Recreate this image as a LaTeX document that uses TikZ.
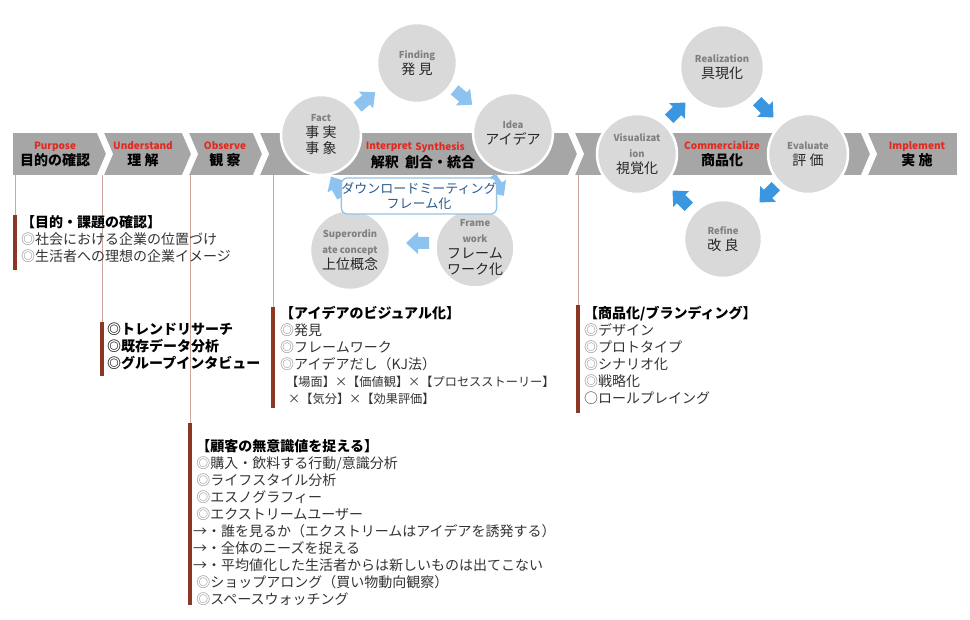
\documentclass[tikz,border=0pt]{standalone}
\usepackage{fontspec}
\setmainfont{Liberation Sans}
\newfontfamily\jp{Noto Sans CJK JP}
\usetikzlibrary{calc}
\definecolor{bandgray}{RGB}{166,166,166}
\definecolor{bubblegray}{RGB}{217,217,217}
\definecolor{capgray}{RGB}{128,128,128}
\definecolor{stagered}{RGB}{228,40,30}
\definecolor{barbrown}{RGB}{140,55,35}
\definecolor{guidepink}{RGB}{205,165,155}
\definecolor{paleblue}{RGB}{142,195,240}
\definecolor{deepblue}{RGB}{58,150,225}
\definecolor{boxblue}{RGB}{150,195,230}
\definecolor{boxtext}{RGB}{40,90,140}
\newcommand{\capen}[1]{{\fontsize{9.5}{11}\selectfont\bfseries\color{capgray}#1}}
\newcommand{\stageen}[1]{{\fontsize{10}{12}\selectfont\bfseries\color{stagered}#1}}
\newcommand{\dmark}{{\color{black!50}◎}}
% block arrow: colour, centre, angle
\newcommand{\cyclearrow}[3]{\fill[#1,shift={#2},rotate=#3]
  (-11,-6) -- (0,-6) -- (0,-11) -- (12,0) -- (0,11) -- (0,6) -- (-11,6) -- cycle;}

\begin{document}
\begin{tikzpicture}[x=1pt,y=-1pt]
\useasboundingbox (0,0) rectangle (970,620);

% Styles for the band, the bubbles and the notes.
\tikzstyle{band}=[fill=bandgray,draw=none,minimum width=944pt,minimum height=42pt,inner sep=0pt]
\tikzstyle{stagetext}=[align=center,inner sep=0pt,font=\jp\fontsize{14}{16}\selectfont\bfseries]
\tikzstyle{bubble}=[circle,fill=bubblegray,draw=white,line width=2.5pt,inner sep=0pt,align=center,
  text=black!85,font=\jp\fontsize{14}{16}\selectfont]
\tikzstyle{guide}=[guidepink,line width=0.6pt]
\tikzstyle{bar}=[barbrown,line width=4pt]
\tikzstyle{memo}=[anchor=north west,inner sep=0pt,align=left,text=black!80,
  font=\jp\fontsize{14}{17}\selectfont]

% This draws the grey band with its white chevrons.
\node[band] (band) at (485,154) {};
\foreach \cx in {97,182,253,568,861}
  \fill[white] (\cx,133) -- (\cx+7,133) -- (\cx+16,154) -- (\cx+7,175) -- (\cx,175) -- (\cx+9,154) -- cycle;

% This writes the stages on the band.
\node[stagetext] (purpose) at (55,154) {\stageen{Purpose}\\目的の確認};
\node[stagetext] (understand) at (143,154) {\stageen{Understand}\\理 解};
\node[stagetext] (observe) at (225,154) {\stageen{Observe}\\観 察};
\node[stagetext] (interpret) at (389,147) {\stageen{Interpret}};
\node[stagetext] (synthesis) at (440,147) {\stageen{Synthesis}};
\node[stagetext] (creation) at (423,162) {解釈\ \ 創合・統合};
\node[stagetext] (commercialize) at (722,154) {\stageen{Commercialize}\\商品化};
\node[stagetext] (implement) at (917,154) {\stageen{Implement}\\実 施};

% This draws the idea cycle.
\node[bubble,minimum size=80pt] (fact) at (321,135) {\capen{Fact}\\事 実\\事 象};
\node[bubble,minimum size=80pt] (finding) at (417,63) {\capen{Finding}\\発 見};
\node[bubble,minimum size=80pt] (idea) at (513,133) {\capen{Idea}\\アイデア};
\node[bubble,minimum size=78pt] (framework) at (475,248) {\capen{Frame}\\\capen{work}\\フレーム\\ワーク化};
\node[bubble,minimum size=80pt] (superordinate) at (350,250) {\capen{Superordin}\\\capen{ate concept}\\上位概念};

\cyclearrow{paleblue}{(366,100)}{40}
\cyclearrow{paleblue}{(463,97)}{-40}
\cyclearrow{paleblue}{(497,186)}{-55}
\cyclearrow{paleblue}{(418,243)}{180}
\cyclearrow{paleblue}{(337,187)}{120}

% This draws the meeting box over the cycle.
\node[draw=boxblue,fill=white,line width=1.3pt,rounded corners=6pt,minimum width=138pt,
  minimum height=36pt,inner sep=0pt,align=center,text=boxtext,
  font=\jp\fontsize{13}{15}\selectfont] (meeting) at (419,196) {ダウンロードミーティング\\フレーム化};

% This draws the product cycle.
\node[bubble,minimum size=84pt] (realization) at (722,67) {\capen{Realization}\\具現化};
\node[bubble,minimum size=80pt] (visualization) at (637,154) {\capen{Visualizat}\\\capen{ion}\\視覚化};
\node[bubble,minimum size=80pt] (evaluate) at (808,154) {\capen{Evaluate}\\評 価};
\node[bubble,minimum size=78pt] (refine) at (723,239) {\capen{Refine}\\改 良};

\cyclearrow{deepblue}{(677,111)}{45}
\cyclearrow{deepblue}{(765,109)}{-45}
\cyclearrow{deepblue}{(768,194)}{-135}
\cyclearrow{deepblue}{(681,199)}{135}

% This hangs the notes below the band.
\coordinate (p1) at (15,215);
\coordinate (p2) at (102,322);
\coordinate (p3) at (190,423);
\coordinate (p4) at (273,307);
\coordinate (p5) at (578,305);
\foreach \p in {p1,p2,p3,p4,p5}
  \draw[guide] (band.south -| \p) -- (\p);
\draw[bar] (p1) -- ++(0,55);
\draw[bar] (p2) -- ++(0,54);
\draw[bar] (p3) -- ++(0,182);
\draw[bar] (p4) -- ++(0,101);
\draw[bar] (p5) -- ++(0,108);

\node[memo] (purposenote) at (21,215) {{\bfseries\color{black}【目的・課題の確認】}\\
  \dmark 社会における企業の位置づけ\\
  \dmark 生活者への理想の企業イメージ};

\node[memo,text=black] (understandnote) at (107,323) {\bfseries ◎トレンドリサーチ\\
  \bfseries ◎既存データ分析\\
  \bfseries ◎グループインタビュー};

\node[memo] (observenote) at (193,439) {{\bfseries\color{black}\ 【顧客の無意識値を捉える】}\\
  \ \dmark 購入・飲料する行動/意識分析\\
  \ \dmark ライフスタイル分析\\
  \ \dmark エスノグラフィー\\
  \ \dmark エクストリームユーザー\\
  →・誰を見るか（エクストリームはアイデアを誘発する）\\
  →・全体のニーズを捉える\\
  →・平均値化した生活者からは新しいものは出てこない\\
  \ \dmark ショップアロング（買い物動向観察）\\
  \ \dmark スペースウォッチング};

\node[memo] (ideanote) at (280,306) {{\bfseries\color{black}【アイデアのビジュアル化】}\\
  \dmark 発見\\
  \dmark フレームワーク\\
  \dmark アイデアだし（KJ法）\\
  \hspace*{6pt}{\fontsize{12.2}{17}\selectfont【場面】×【価値観】×【プロセスストーリー】}\\
  \hspace*{8pt}{\fontsize{12.2}{17}\selectfont×【気分】×【効果評価】}};

\node[memo] (productnote) at (584,306) {{\bfseries\color{black}【商品化/ブランディング】}\\
  \dmark デザイン\\
  \dmark プロトタイプ\\
  \dmark シナリオ化\\
  \dmark 戦略化\\
  ○ロールプレイング};
\end{tikzpicture}
\end{document}
